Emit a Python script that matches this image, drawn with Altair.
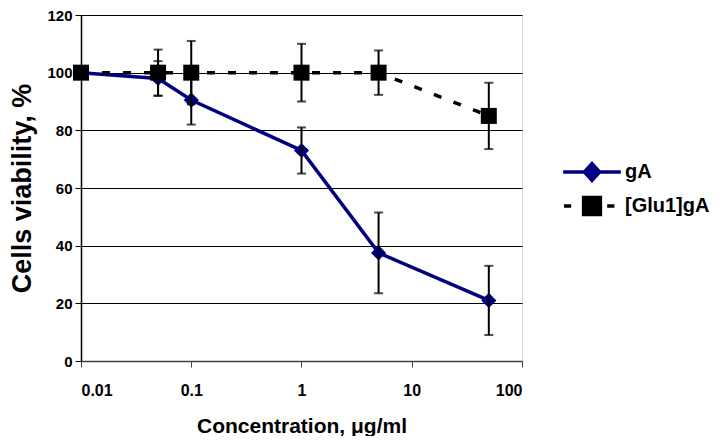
import altair as alt
import pandas as pd

conc = [0.01, 0.05, 0.1, 1, 5, 50]
ga_mean = [100, 98, 90.5, 73, 37.5, 21]
ga_err = [0, 6, 8.5, 8, 14, 12]
glu_mean = [100, 100, 100, 100, 100, 85]
glu_err = [0, 8, 11, 10, 7.7, 11.5]
series = ["gA", "[Glu1]gA"]

rows = []
for c, m, e in zip(conc, ga_mean, ga_err):
    rows.append({"conc": c, "v": m, "lo": m - e, "hi": m + e, "s": "gA"})
for c, m, e in zip(conc, glu_mean, glu_err):
    rows.append({"conc": c, "v": m, "lo": m - e, "hi": m + e, "s": "[Glu1]gA"})
df = pd.DataFrame(rows)
err_df = df[df["hi"] > df["lo"]]

FONT = "Liberation Sans"
NAVY = "#000080"

x = alt.X("conc:Q", scale=alt.Scale(type="log", domain=[0.01, 100]),
          axis=alt.Axis(values=[0.01, 0.1, 1, 10, 100],
                        labelExpr="datum.value < 1 ? format(datum.value, '.2~f') : format(datum.value, 'd')",
                        title="Concentration, μg/ml", grid=False, domainColor="#404040", domainWidth=1.5,
                        tickColor="#404040", tickSize=6, labelFontSize=16, labelFontWeight="bold",
                        labelColor="black", labelPadding=15, titleFontSize=21, titleFontWeight="bold",
                        titlePadding=17, titleColor="black", labelFont=FONT, titleFont=FONT))
y = alt.Y("v:Q", scale=alt.Scale(domain=[0, 120]),
          axis=alt.Axis(values=[0, 20, 40, 60, 80, 100, 120], title="Cells viability, %",
                        grid=True, gridColor="black", gridWidth=1, domainColor="black", domainWidth=1.5,
                        tickColor="black", tickSize=6, labelFontSize=15, labelFontWeight="bold",
                        labelColor="black", labelPadding=3, titleFontSize=27, titleFontWeight="bold",
                        titlePadding=10, titleColor="black", labelFont=FONT, titleFont=FONT))

GA_SYM = "M-3.6,0H3.6M-0.95,0L0,-1.05L0.95,0L0,1.05Z"
GLU_SYM = "M-3.5,0H-2.6M-1.05,-1.05H1.05V1.05H-1.05ZM1.9,0H2.8"

leg = alt.Legend(title=None, orient="none", legendX=501, legendY=147,
                 labelFontSize=20, labelFontWeight="bold", labelColor="black",
                 labelFont=FONT, symbolSize=256, symbolStrokeWidth=3.5,
                 symbolOpacity=1, rowPadding=2, labelOffset=23)
fill = alt.Fill("s:N", scale=alt.Scale(domain=series, range=[NAVY, "black"]), legend=leg)
stroke = alt.Stroke("s:N", scale=alt.Scale(domain=series, range=[NAVY, "black"]), legend=leg)
shape = alt.Shape("s:N", scale=alt.Scale(domain=series, range=[GA_SYM, GLU_SYM]), legend=leg)

base = alt.Chart(df)
ga_line = base.transform_filter(alt.datum.s == "gA").mark_line(
    strokeWidth=3.5, color=NAVY).encode(x=x, y=y, order="conc:Q")
glu_line = base.transform_filter(alt.datum.s == "[Glu1]gA").mark_line(
    strokeWidth=3.5, color="black", strokeDash=[8, 13]).encode(x=x, y=y, order="conc:Q")
ga_pts = base.transform_filter(alt.datum.s == "gA").mark_point(
    filled=True, size=230, opacity=1, shape="diamond", color=NAVY).encode(x=x, y=y)
glu_pts = base.transform_filter(alt.datum.s == "[Glu1]gA").mark_point(
    filled=True, size=256, opacity=1, shape="square", color="black").encode(x=x, y=y)
legend_layer = base.transform_filter(alt.datum.v < -1000).mark_point(
    size=256, opacity=1, strokeWidth=3.5).encode(x=x, y=y, fill=fill, stroke=stroke, shape=shape)

ebase = alt.Chart(err_df)
rule = ebase.mark_rule(color="black", strokeWidth=2).encode(x="conc:Q", y="lo:Q", y2="hi:Q")
tlo = ebase.mark_tick(color="black", thickness=2, size=9, orient="horizontal").encode(x="conc:Q", y="lo:Q")
thi = ebase.mark_tick(color="black", thickness=2, size=9, orient="horizontal").encode(x="conc:Q", y="hi:Q")

chart = alt.layer(ga_line, ga_pts, glu_line, glu_pts, rule, tlo, thi, legend_layer).properties(
    width=441, height=346, background="white",
    padding={"left": 0, "top": 0, "right": 0, "bottom": 0}
).configure_view(stroke=None).configure(font=FONT)

chart.save("out.html", embed_options={"renderer": "svg", "actions": False})
